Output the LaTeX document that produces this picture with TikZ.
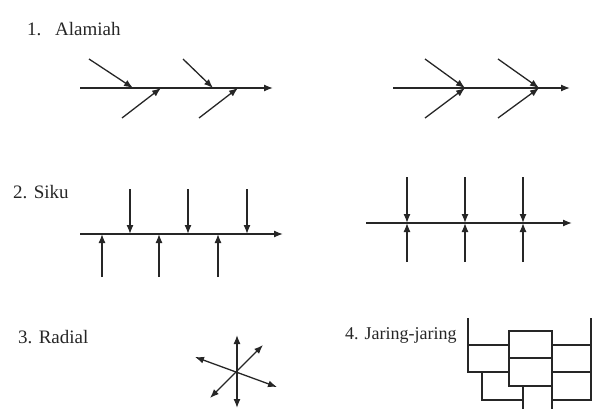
\documentclass[tikz,border=0pt]{standalone}
\usepackage{fontspec}
\setmainfont{Liberation Serif}
\usetikzlibrary{arrows.meta}
\begin{document}
\begin{tikzpicture}[x=1pt,y=-1pt,
  ln/.style={line width=1.3pt, draw=black!85},
  arr/.style={ln, -{Latex[length=9pt,width=7pt]}},
  darr/.style={ln, {Latex[length=9pt,width=7pt]}-{Latex[length=9pt,width=7pt]}},
  lbl/.style={font=\fontsize{19}{21}\selectfont, inner sep=0pt, anchor=west, text=black!85}]
\useasboundingbox (0,0) rectangle (597,409);

% labels
\node[lbl] (n1) at (27,29) {1.};
\node[lbl] (alam) at (55,29) {Alamiah};
\node[lbl] (siku) at (13,192) {2. Siku};
\node[lbl] (rad) at (18,337) {3. Radial};
\node[lbl, font=\fontsize{18}{20}\selectfont] (jar) at (345,335) {4. Jaring-jaring};

% 1. Alamiah - left
\coordinate (a0) at (80,88); \coordinate (a1) at (273,88);
\draw[arr] (a0) -- (a1);
\coordinate (au1) at (89,59);   \coordinate (aj1) at (133,88);
\coordinate (al1) at (122,118); \coordinate (ak1) at (161,88);
\coordinate (au2) at (183,59);  \coordinate (aj2) at (213,88);
\coordinate (al2) at (199,118); \coordinate (ak2) at (238,88);
\draw[arr] (au1) -- (aj1);
\draw[arr] (al1) -- (ak1);
\draw[arr] (au2) -- (aj2);
\draw[arr] (al2) -- (ak2);

% 1. Alamiah - right
\coordinate (b0) at (393,88); \coordinate (b1) at (570,88);
\draw[arr] (b0) -- (b1);
\coordinate (bj1) at (465,88); \coordinate (bj2) at (539,88);
\coordinate (bu1) at (425,59); \coordinate (bl1) at (425,118);
\coordinate (bu2) at (498,59); \coordinate (bl2) at (498,118);
\draw[arr] (bu1) -- (bj1);
\draw[arr] (bl1) -- (bj1);
\draw[arr] (bu2) -- (bj2);
\draw[arr] (bl2) -- (bj2);

% 2. Siku - left
\coordinate (c0) at (80,234); \coordinate (c1) at (283,234);
\draw[arr] (c0) -- (c1);
\foreach \x [count=\i] in {130,188,247} {
  \coordinate (cd\i s) at (\x,189); \coordinate (cd\i e) at (\x,234);
  \draw[arr] (cd\i s) -- (cd\i e);
}
\foreach \x [count=\i] in {102,159,218} {
  \coordinate (cu\i s) at (\x,277); \coordinate (cu\i e) at (\x,234);
  \draw[arr] (cu\i s) -- (cu\i e);
}

% 2. Siku - right
\coordinate (d0) at (366,223); \coordinate (d1) at (572,223);
\draw[arr] (d0) -- (d1);
\foreach \x [count=\i] in {407,465,523} {
  \coordinate (dt\i) at (\x,177); \coordinate (dm\i) at (\x,223); \coordinate (db\i) at (\x,262);
  \draw[arr] (dt\i) -- (dm\i);
  \draw[arr] (db\i) -- (dm\i);
}

% 3. Radial
\coordinate (rc) at (237,372);
\coordinate (rt) at (237,335); \coordinate (rb) at (237,408);
\coordinate (rul) at (195,357); \coordinate (rlr) at (277,387);
\coordinate (rll) at (210,398); \coordinate (rur) at (263,345);
\draw[darr] (rt) -- (rb);
\draw[darr] (rul) -- (rlr);
\draw[darr] (rll) -- (rur);

% 4. Jaring-jaring
\draw[ln] (468,318) -- (468,372) -- (509,372);
\draw[ln] (468,345) -- (509,345);
\draw[ln] (591,318) -- (591,400) -- (552,400);
\draw[ln] (552,345) -- (591,345);
\draw[ln] (552,372) -- (591,372);
\draw[ln] (509,331) rectangle (552,386);
\draw[ln] (509,358) -- (552,358);
\draw[ln] (482,372) -- (482,400) -- (523,400);
\draw[ln] (523,386) -- (523,409);
\draw[ln] (552,386) -- (552,409);
\end{tikzpicture}
\end{document}
